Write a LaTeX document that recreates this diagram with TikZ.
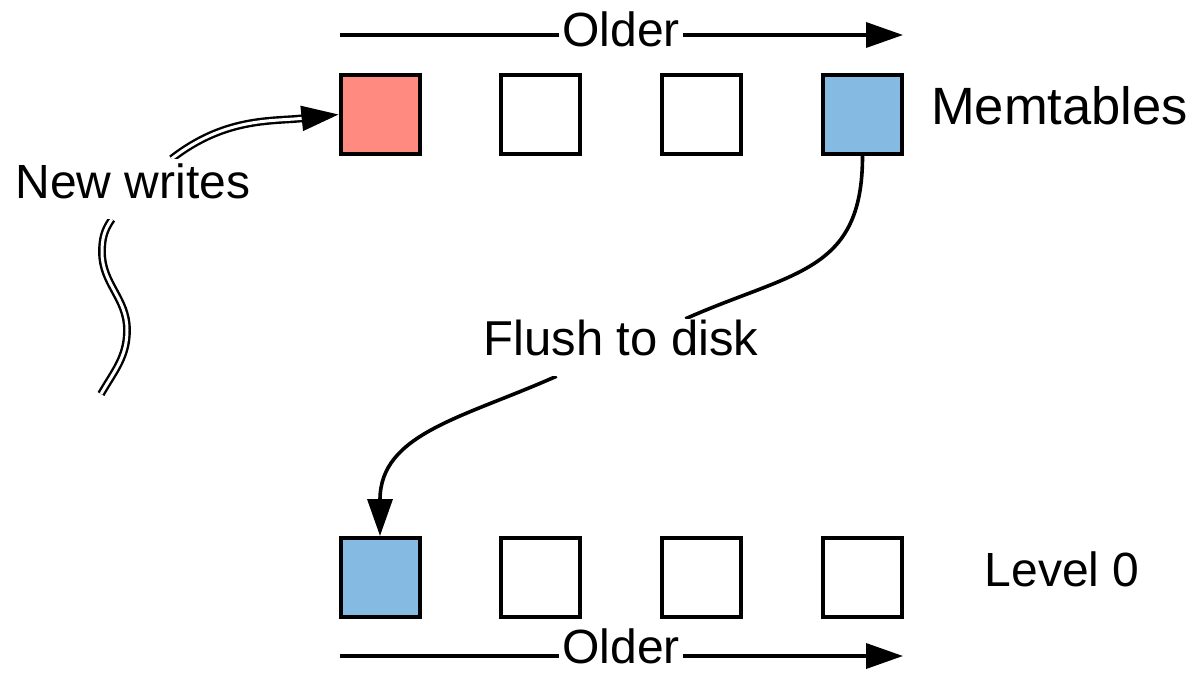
\documentclass[tikz,border=0pt]{standalone}
\usepackage{fontspec}
\setmainfont{Liberation Sans}
\usetikzlibrary{arrows.meta,backgrounds}
\definecolor{memred}{HTML}{FF8A80}
\definecolor{memblue}{HTML}{85BBE3}
\begin{document}
\begin{tikzpicture}[x=1pt,y=1pt,
  tbl/.style={draw=black, line width=4pt, minimum size=79pt, inner sep=0pt, fill=white},
  lbl/.style={font=\fontsize{48pt}{56pt}\selectfont, inner sep=0pt},
  cutlbl/.style={lbl, fill=white, inner xsep=2pt, inner ysep=1pt},
  tip/.style={-{Triangle[length=37pt,width=25pt]}},
  conn/.style={draw=black, line width=3.6pt},
  dbl/.style={draw=black, double=white, double distance=3pt, line width=2.4pt},
]
\useasboundingbox (0,0) rectangle (1199,-672);

% memtables (top row) and level 0 files (bottom row)
\node[tbl, fill=memred]  (m1) at (380,-114.5)   {};
\node[tbl]               (m2) at (540.5,-114.5) {};
\node[tbl]               (m3) at (701,-114.5)   {};
\node[tbl, fill=memblue] (m4) at (862.5,-114.5) {};
\node[tbl, fill=memblue] (l1) at (380,-577.5)   {};
\node[tbl]               (l2) at (540.5,-577.5) {};
\node[tbl]               (l3) at (701,-577.5)   {};
\node[tbl]               (l4) at (862.5,-577.5) {};

% row captions
\node[lbl, anchor=base west, font=\fontsize{52.5pt}{60pt}\selectfont] (memlbl) at (931,-124) {Memtables};
\node[lbl, anchor=base west] (lvllbl) at (984.5,-586) {Level 0};

% labels sitting on connectors
\node[cutlbl, anchor=base, inner xsep=3pt] (olderT) at (621,-46)  {Older};
\node[cutlbl, anchor=base, inner xsep=3pt, inner ysep=0pt] (olderB) at (621,-663) {Older};
\node[cutlbl, anchor=base, font=\fontsize{49pt}{58pt}\selectfont,
      text height=35pt, text depth=20pt] (flush) at (621,-355) {Flush to disk};
\node[cutlbl, anchor=base, text height=38pt, text depth=20pt] (nw) at (133,-198) {New writes};

% free ends of connectors
\coordinate (oTs) at (340,-35);
\coordinate (oTe) at (903,-35);
\coordinate (oBs) at (340,-656);
\coordinate (oBe) at (903,-656);
\coordinate (src) at (101,-394);
\coordinate (s1)  at (127,-330);
\coordinate (s2)  at (102,-252);

\begin{scope}[on background layer]
  % age direction
  \draw[conn, tip] (oTs) -- (oTe);
  \draw[conn, tip] (oBs) -- (oBe);
  % flush of the oldest memtable
  \draw[conn] (m4.south) to[out=-90, in=24, looseness=1.25] (flush);
  \draw[conn, tip] (flush) to[out=204, in=90, looseness=1.1] (l1.north);
  % incoming writes
  \draw[dbl] (src) to[out=60, in=-90] (s1) to[out=90, in=-90] (s2) to[out=90, in=235] (nw);
  \draw[dbl, tip] (nw) to[out=38, in=186] (m1.west);
\end{scope}
\end{tikzpicture}
\end{document}
